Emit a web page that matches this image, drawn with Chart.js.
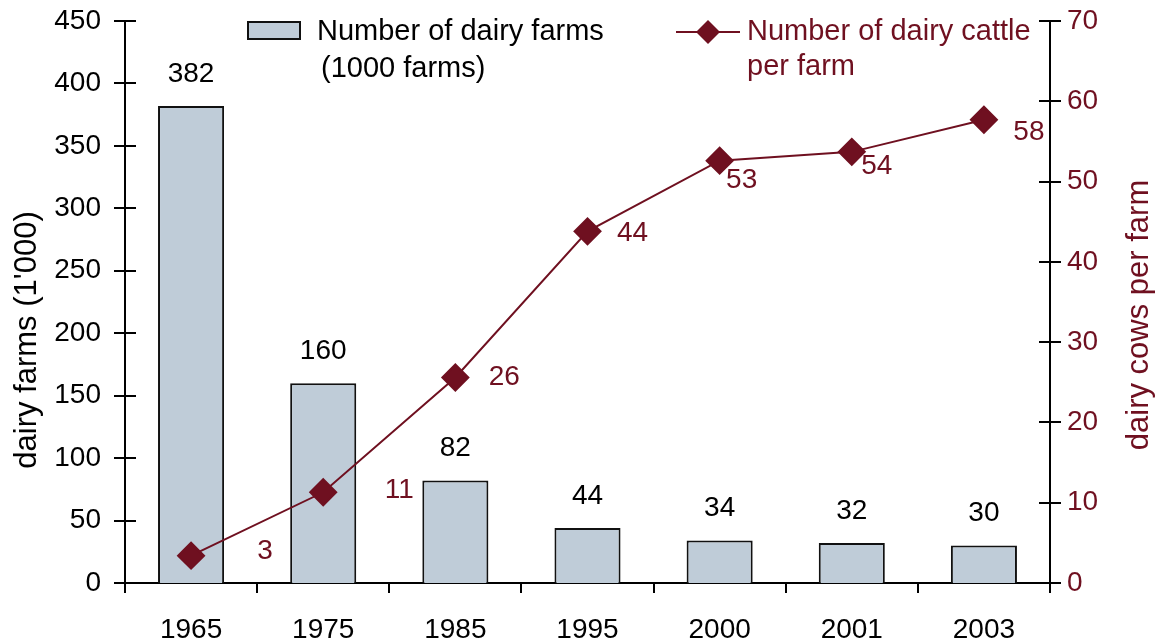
<!DOCTYPE html>
<html>
<head>
<meta charset="utf-8">
<script src="https://cdn.jsdelivr.net/npm/chart.js@4.4.1/dist/chart.umd.min.js"></script>
<style>
  html, body { margin: 0; padding: 0; background: #fff; }
  #wrap { width: 1158px; height: 643px; }
</style>
</head>
<body>
<div id="wrap"><canvas id="chart" width="1158" height="643"></canvas></div>
<script>
// Data
const years = ['1965', '1975', '1985', '1995', '2000', '2001', '2003'];
const farms = [382, 160, 82, 44, 34, 32, 30]; // 1000 farms
const cattlePerFarm = [3.4, 11.3, 25.6, 43.8, 52.6, 53.7, 57.7];

const maroon = '#6f1020';
const barFill = '#bfccd8';
const fontFamily = '"Liberation Sans", Arial, sans-serif';

// offsets of the line value labels relative to their points
const lineLabelOffsets = [
  [74, -4], [76, -2], [49, 0], [45, 2], [22, 20], [25, 14], [45, 13],
];

const extrasPlugin = {
  id: 'extras',
  afterDraw(chart) {
    const ctx = chart.ctx;
    const area = chart.chartArea;
    const yL = chart.scales.y;
    const yR = chart.scales.y1;
    ctx.save();

    // crossing tick marks on both value axes
    ctx.strokeStyle = '#000';
    ctx.lineWidth = 2;
    [yL, yR].forEach((scale) => {
      const x = scale === yL ? area.left : area.right;
      scale.ticks.forEach((t) => {
        const py = Math.round(scale.getPixelForValue(t.value));
        ctx.beginPath();
        ctx.moveTo(x - 11, py);
        ctx.lineTo(x + 11, py);
        ctx.stroke();
      });
    });

    // bar value labels
    ctx.font = '28px ' + fontFamily;
    ctx.fillStyle = '#000';
    ctx.textAlign = 'center';
    ctx.textBaseline = 'middle';
    chart.getDatasetMeta(1).data.forEach((el, i) => {
      ctx.fillText(String(farms[i]), el.x, el.y - 32);
    });

    // line value labels
    ctx.fillStyle = maroon;
    chart.getDatasetMeta(0).data.forEach((el, i) => {
      const [dx, dy] = lineLabelOffsets[i];
      ctx.fillText(String(Math.round(cattlePerFarm[i])), el.x + dx, el.y + dy);
    });

    // axis titles
    ctx.font = '31px ' + fontFamily;
    ctx.fillStyle = '#000';
    ctx.save();
    ctx.translate(27, 340);
    ctx.rotate(-Math.PI / 2);
    ctx.fillText("dairy farms (1'000)", 0, 0);
    ctx.restore();
    ctx.fillStyle = maroon;
    ctx.save();
    ctx.translate(1139, 315);
    ctx.rotate(-Math.PI / 2);
    ctx.fillText('dairy cows per farm', 0, 0);
    ctx.restore();

    // legend
    ctx.font = '29px ' + fontFamily;
    ctx.fillStyle = barFill;
    ctx.strokeStyle = '#111';
    ctx.lineWidth = 2;
    ctx.fillRect(248, 22, 52, 17);
    ctx.strokeRect(248, 22, 52, 17);
    ctx.textAlign = 'left';
    ctx.fillStyle = '#000';
    ctx.fillText('Number of dairy farms', 317, 32);
    ctx.fillText('(1000 farms)', 321, 69);

    ctx.strokeStyle = maroon;
    ctx.beginPath();
    ctx.moveTo(676, 32);
    ctx.lineTo(740, 32);
    ctx.stroke();
    ctx.fillStyle = maroon;
    ctx.beginPath();
    ctx.moveTo(708, 20);
    ctx.lineTo(720, 32);
    ctx.lineTo(708, 44);
    ctx.lineTo(696, 32);
    ctx.closePath();
    ctx.fill();
    ctx.fillText('Number of dairy cattle', 747, 32);
    ctx.fillText('per farm', 747, 67);

    ctx.restore();
  },
};

new Chart(document.getElementById('chart'), {
  data: {
    labels: years,
    datasets: [
      {
        type: 'line',
        label: 'Number of dairy cattle per farm',
        data: cattlePerFarm,
        yAxisID: 'y1',
        borderColor: maroon,
        backgroundColor: maroon,
        borderWidth: 2,
        pointStyle: 'rectRot',
        pointRadius: 13,
        pointHoverRadius: 13,
        tension: 0,
        order: 0,
      },
      {
        type: 'bar',
        label: 'Number of dairy farms (1000 farms)',
        data: farms,
        yAxisID: 'y',
        backgroundColor: barFill,
        borderColor: '#111',
        borderWidth: 2,
        categoryPercentage: 1,
        barPercentage: 0.5,
        order: 1,
      },
    ],
  },
  options: {
    responsive: false,
    animation: false,
    events: [],
    layout: { padding: { top: 21, right: 0, left: 0, bottom: 0 } },
    plugins: { legend: { display: false }, tooltip: { enabled: false } },
    scales: {
      x: {
        offset: true,
        grid: {
          offset: true,
          drawOnChartArea: false,
          color: '#000',
          lineWidth: 2,
          tickLength: 10,
        },
        border: { color: '#000', width: 2 },
        ticks: { color: '#000', font: { family: fontFamily, size: 28 }, padding: 20 },
        afterFit: (s) => { s.height = 60; s.paddingLeft = 0; s.paddingRight = 0; },
      },
      y: {
        position: 'left',
        min: 0,
        max: 450,
        ticks: { stepSize: 50, color: '#000', font: { family: fontFamily, size: 28 }, padding: 24 },
        grid: { display: false, drawTicks: false },
        border: { color: '#000', width: 2 },
        afterFit: (s) => { s.width = 125; s.paddingTop = 0; s.paddingBottom = 0; },
      },
      y1: {
        position: 'right',
        min: 0,
        max: 70,
        ticks: { stepSize: 10, color: maroon, font: { family: fontFamily, size: 28 }, padding: 17 },
        grid: { display: false, drawTicks: false },
        border: { color: '#000', width: 2 },
        afterFit: (s) => { s.width = 108; s.paddingTop = 0; s.paddingBottom = 0; },
      },
    },
  },
  plugins: [extrasPlugin],
});
</script>
</body>
</html>
